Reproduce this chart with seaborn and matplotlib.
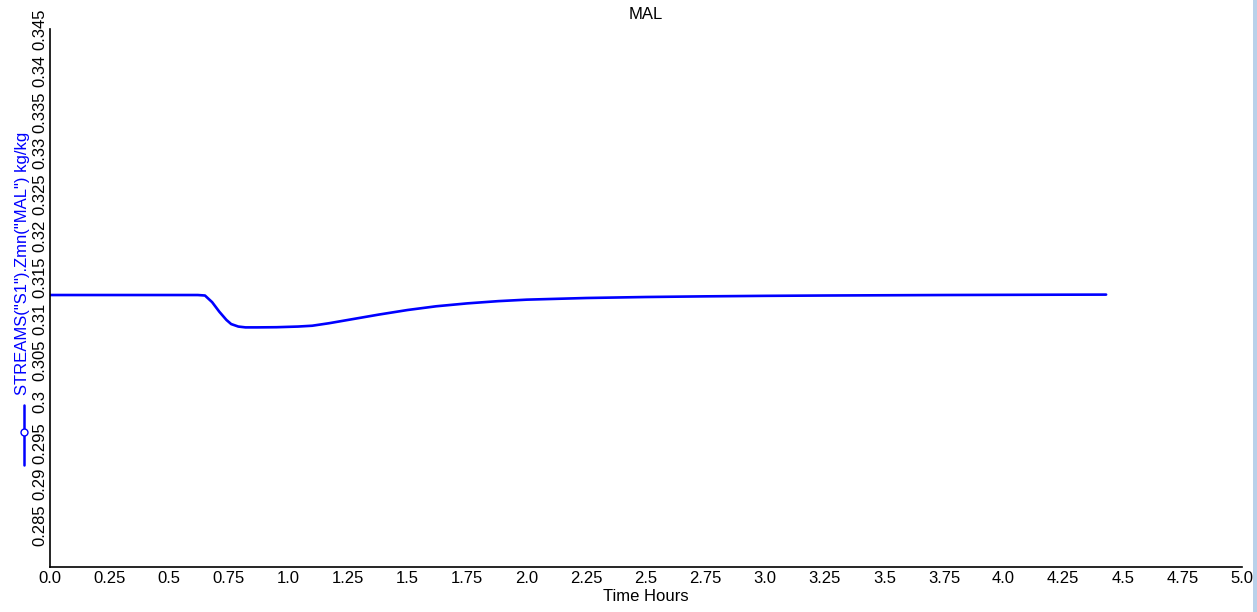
"""
MAL mass fraction in stream S1 over time (dynamic run)
"""

import numpy as np
import pandas as pd
import seaborn as sns
import matplotlib
import matplotlib.pyplot as plt
from matplotlib.lines import Line2D
from matplotlib.patches import Rectangle

matplotlib.use('Agg')

# Data
time_hours = [0.0, 0.25, 0.5, 0.62, 0.65, 0.68, 0.71, 0.74, 0.76, 0.79, 0.82,
              0.87, 0.95, 1.04, 1.10, 1.17, 1.25, 1.38, 1.5, 1.62, 1.75, 1.88,
              2.0, 2.25, 2.5, 2.75, 3.0, 3.25, 3.5, 3.75, 4.0, 4.25, 4.43]
zmn_mal = [0.31286, 0.31286, 0.31286, 0.31286, 0.31280, 0.31200, 0.31085,
           0.30985, 0.30935, 0.30905, 0.30895, 0.30895, 0.30897, 0.30905,
           0.30915, 0.30945, 0.30985, 0.31050, 0.31105, 0.31150, 0.31185,
           0.31212, 0.31230, 0.31250, 0.31262, 0.31270, 0.31276, 0.31280,
           0.31283, 0.31286, 0.31288, 0.31290, 0.31291]

x_ticks = [i * 0.25 for i in range(21)]
y_ticks = [0.285, 0.29, 0.295, 0.3, 0.305, 0.31, 0.315, 0.32, 0.325, 0.33,
           0.335, 0.34, 0.345]

title = 'MAL'
x_label = 'Time Hours'
y_label = 'STREAMS("S1").Zmn("MAL") kg/kg'

df = pd.DataFrame({'time': time_hours, 'value': zmn_mal})

# Style
sns.set_style('white')
plt.rcParams['font.family'] = ['Liberation Sans', 'DejaVu Sans']
plt.rcParams['font.size'] = 12
plt.rcParams['text.color'] = 'black'
plt.rcParams['axes.labelcolor'] = 'black'

fig = plt.figure(figsize=(12.57, 6.12), dpi=100)
ax = fig.add_axes([50 / 1257, 45 / 612, 1192 / 1257, 538 / 612])

sns.lineplot(data=df, x='time', y='value', color='#0000ff', linewidth=1.9, ax=ax)

ax.set_xlim(0, 5.0)
ax.set_ylim(0.28, 0.345)
ax.set_xticks(x_ticks)
ax.set_xticklabels([str(v) for v in x_ticks])
ax.set_yticks(y_ticks)
ax.set_yticklabels([f'{v:g}' for v in y_ticks], rotation=90, va='center')

ax.tick_params(axis='x', direction='in', length=4, width=1, pad=3,
               labelsize=12, colors='black')
ax.tick_params(axis='y', direction='in', length=3, width=1, pad=2,
               labelsize=12, colors='black')

for side in ['top', 'right']:
    ax.spines[side].set_visible(False)
for side in ['left', 'bottom']:
    ax.spines[side].set_color('black')
    ax.spines[side].set_linewidth(1.2)

ax.set_title(title, fontsize=12, pad=7, color='black')
ax.set_xlabel(x_label, fontsize=12, labelpad=2)
ax.set_ylabel('')
ax.grid(False)

# Legend-style y label: line with open circle, then blue text
fig.text(23 / 1257, 1 - 395 / 612, y_label, rotation=90, ha='center',
         va='bottom', color='#0000ff', fontsize=12)
fig.add_artist(Line2D([24 / 1257] * 3, [1 - 405 / 612, 1 - 432 / 612, 1 - 465 / 612],
                      transform=fig.transFigure, color='#0000ff', linewidth=1.8,
                      marker='o', markevery=[1], markersize=5,
                      markerfacecolor='white', markeredgecolor='#0000ff'))

# window border strip at the right edge
fig.add_artist(Rectangle((1253 / 1257, 0), 4 / 1257, 1, transform=fig.transFigure,
                         facecolor='#b9d1ea', edgecolor='none'))

fig.savefig('out.png', dpi=100)
